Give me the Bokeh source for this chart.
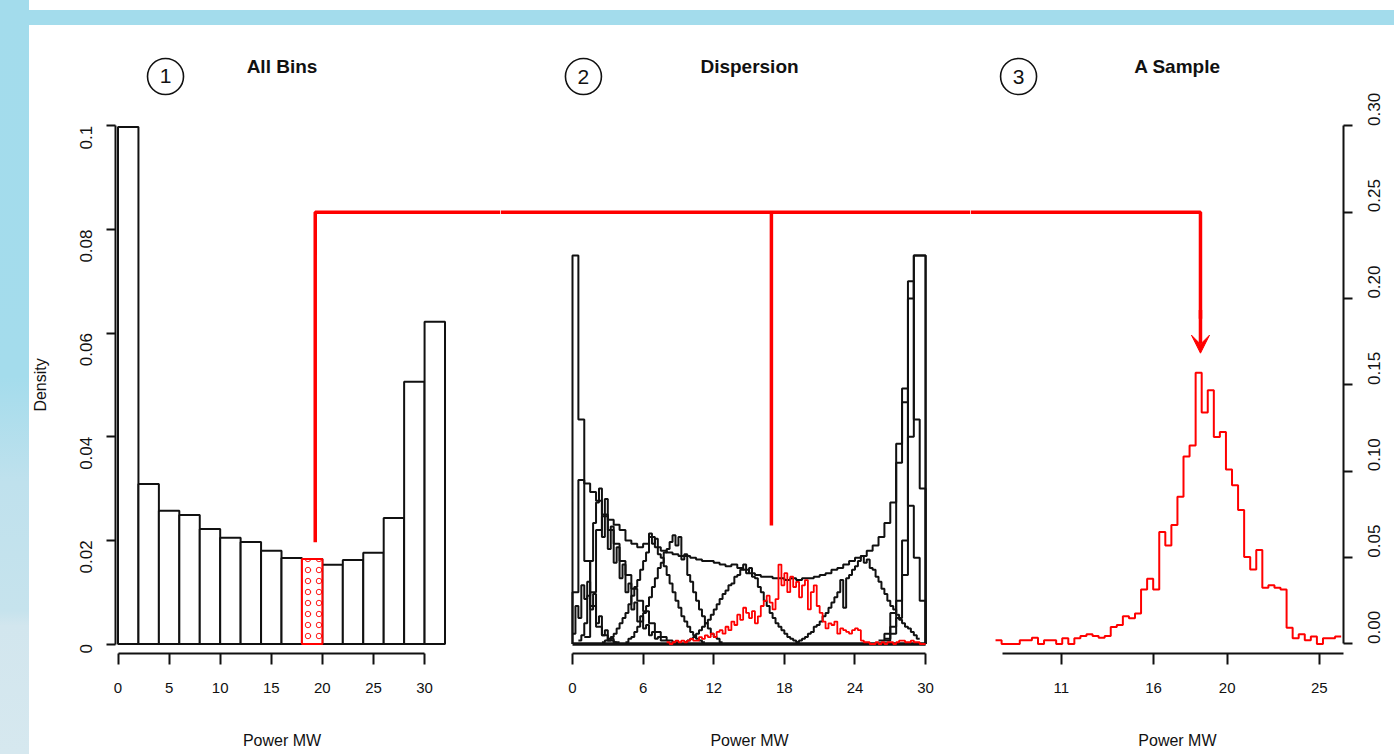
import math
from bokeh.plotting import figure
from bokeh.models import (Range1d, FixedTicker, NumeralTickFormatter, Span,
                          Arrow, VeeHead, Div, Spacer)
from bokeh.core.properties import value
from bokeh.layouts import row, column
from bokeh.embed import file_html
from bokeh.resources import INLINE

# ---------------- data ----------------
# Panel 1 : All Bins (histogram, 2 MW bins)
ALL_BIN_START = 0
ALL_BIN_WIDTH = 2
ALL_BIN_DENSITY = [0.0998, 0.0309, 0.0257, 0.0249, 0.0222, 0.0205, 0.0197, 0.0180,
                   0.0166, 0.0164, 0.0153, 0.0162, 0.0176, 0.0243, 0.0506, 0.0622]
HIGHLIGHT_BIN = 9
ALL_X_TICKS = [0, 5, 10, 15, 20, 25, 30]
ALL_Y_TICKS = [0, 0.02, 0.04, 0.06, 0.08, 0.1]

# Panel 2 : Dispersion (conditional densities)
DISP_X_TICKS = [0, 6, 12, 18, 24, 30]
COARSE_BIN = 0.5
FINE_BIN = 0.25
ENVELOPE_START = 0.0
ENVELOPE = [0.225, 0.130, 0.093, 0.088, 0.083, 0.075, 0.072, 0.069, 0.066, 0.060,
            0.058, 0.056, 0.058, 0.062, 0.056, 0.054, 0.053, 0.052, 0.051, 0.051,
            0.050, 0.049, 0.048, 0.048, 0.047, 0.046, 0.045, 0.046, 0.044, 0.043,
            0.041, 0.040, 0.039, 0.039, 0.038, 0.038, 0.037, 0.038, 0.037, 0.038,
            0.038, 0.039, 0.040, 0.041, 0.043, 0.044, 0.046, 0.048, 0.050, 0.051,
            0.054, 0.057, 0.062, 0.070, 0.082, 0.105, 0.140, 0.200, 0.225, 0.225]
COND0_START = 0.0
COND0 = [0.030, 0.095, 0.048, 0.022, 0.010, 0.005, 0.002, 0.001]
COND1B_START = 1.0
COND1B = [0.004, 0.030, 0.066, 0.074, 0.066, 0.058, 0.048, 0.040, 0.032, 0.025,
          0.019, 0.012, 0.007, 0.004, 0.002, 0.001]
RIGHT1_START = 26.5
RIGHT1 = [0.002, 0.006, 0.015, 0.040, 0.120, 0.225, 0.225]
RIGHT2_START = 26.5
RIGHT2 = [0.003, 0.010, 0.025, 0.060, 0.210, 0.130, 0.090]
RIGHT3_START = 26.0
RIGHT3 = [0.002, 0.006, 0.018, 0.116, 0.148, 0.080, 0.050, 0.025]
# finer (0.25 MW) conditional densities
COND0B_START = 0.0
COND0B = [0.006, 0.022, 0.015, 0.034, 0.026, 0.036, 0.020, 0.029, 0.012, 0.016,
          0.005, 0.008, 0.002, 0.003, 0.001]
COND1_START = 0.5
COND1 = [0.002, 0.005, 0.012, 0.028, 0.048, 0.070, 0.082, 0.090, 0.062, 0.084,
         0.055, 0.068, 0.047, 0.056, 0.038, 0.046, 0.030, 0.035, 0.020, 0.024,
         0.013, 0.016, 0.009, 0.011, 0.005, 0.007, 0.003, 0.004, 0.002, 0.002]
COND2_START = 2.5
COND2 = [0.001, 0.002, 0.003, 0.004, 0.006, 0.009, 0.012, 0.015, 0.018, 0.023,
         0.028, 0.033, 0.037, 0.043, 0.048, 0.053, 0.064, 0.058, 0.061, 0.052,
         0.050, 0.045, 0.040, 0.035, 0.030, 0.025, 0.021, 0.016, 0.013, 0.010,
         0.007, 0.005, 0.003, 0.002, 0.001]
COND3_START = 4.5
COND3 = [0.001, 0.003, 0.004, 0.007, 0.010, 0.013, 0.018, 0.022, 0.027, 0.033,
         0.038, 0.044, 0.047, 0.053, 0.055, 0.059, 0.063, 0.057, 0.062, 0.049,
         0.052, 0.040, 0.036, 0.030, 0.025, 0.020, 0.016, 0.012, 0.009, 0.006,
         0.004, 0.003, 0.001]
COND4_START = 9.5
COND4 = [0.001, 0.002, 0.003, 0.004, 0.006, 0.008, 0.010, 0.012, 0.014, 0.017,
         0.020, 0.023, 0.026, 0.029, 0.031, 0.034, 0.035, 0.039, 0.040, 0.043,
         0.046, 0.041, 0.044, 0.039, 0.038, 0.033, 0.030, 0.025, 0.022, 0.018,
         0.015, 0.012, 0.010, 0.008, 0.006, 0.004, 0.003, 0.002, 0.001]
COND6_START = 19.0
COND6 = [0.001, 0.002, 0.003, 0.004, 0.006, 0.007, 0.010, 0.011, 0.013, 0.016,
         0.018, 0.021, 0.024, 0.027, 0.030, 0.037, 0.021, 0.038, 0.040, 0.043,
         0.045, 0.048, 0.051, 0.047, 0.049, 0.044, 0.043, 0.039, 0.036, 0.032,
         0.029, 0.025, 0.022, 0.020, 0.017, 0.014, 0.012, 0.010, 0.009, 0.007,
         0.005, 0.003]
SAMPLE_COND_START = 8.0
SAMPLE_COND = [0.001, 0.000, 0.001, 0.002, 0.001, 0.002, 0.001, 0.002,
               0.003, 0.002, 0.002, 0.004, 0.003, 0.005, 0.004, 0.006,
               0.004, 0.007, 0.008, 0.006, 0.010, 0.008, 0.013, 0.011,
               0.017, 0.014, 0.021, 0.018, 0.015, 0.019, 0.012, 0.016,
               0.022, 0.025, 0.028, 0.024, 0.020, 0.026, 0.046, 0.034,
               0.041, 0.030, 0.039, 0.033, 0.036, 0.027, 0.034, 0.037,
               0.020, 0.030, 0.034, 0.022, 0.018, 0.013, 0.009, 0.012,
               0.011, 0.013, 0.006, 0.009, 0.008, 0.007, 0.006, 0.008,
               0.009, 0.008, 0.002, 0.001, 0.001, 0.000, 0.000, 0.001,
               0.000, 0.001, 0.000, 0.001, 0.001, 0.000, 0.001, 0.002,
               0.002, 0.001, 0.001, 0.002, 0.001, 0.001, 0.000, 0.000]

# Panel 3 : A Sample
SAMPLE_START = 7.43
SAMPLE_BIN_WIDTH = 0.329
SAMPLE_DENSITY = [0.0021, 0.0, 0.0, 0.0, 0.0021, 0.0021, 0.0036, 0.0, 0.0021, 0.0021,
                  0.0, 0.0033, 0.0, 0.0033, 0.0046, 0.0056, 0.0046, 0.0036, 0.0046, 0.0098,
                  0.0110, 0.0160, 0.0149, 0.0176, 0.0315, 0.0378, 0.0315, 0.0649, 0.0571, 0.0689,
                  0.0853, 0.1085, 0.1150, 0.1570, 0.1340, 0.1470, 0.1199, 0.1228, 0.1010, 0.0919,
                  0.0776, 0.0504, 0.0432, 0.0544, 0.0326, 0.0340, 0.0326, 0.0315, 0.0094, 0.0033,
                  0.0056, 0.0021, 0.0044, 0.0, 0.0033, 0.0033, 0.0044]
SAMPLE_X_TICKS = [11, 16, 20, 25]
SAMPLE_Y_TICKS = [0, 0.05, 0.10, 0.15, 0.20, 0.25, 0.30]

# connector (red path linking the three panels)
LINK_LEVEL = 0.25          # in panel-3 density units
LINK_X_ALL = 19.3
LINK_BOTTOM_ALL = 0.01965
LINK_X_DISP = 16.9
LINK_BOTTOM_DISP = 0.0686
LINK_X_SAMPLE = 18.55
LINK_TIP_SAMPLE = 0.1684

# ---------------- styling helpers ----------------
FONT = "Liberation Sans"
INK = "#111111"
RED = "#ff0000"
PANEL_H = 680        # figure height (frame top at page y=25, bottom at 653)
BOTTOM_B = 52
STRIP_H = 49


def step_xy(start, width, vals, close_left=False, close_right=False):
    xs = [start + i * width for i in range(len(vals) + 1)]
    ys = list(vals) + [vals[-1]]
    if close_left:
        xs = [xs[0]] + xs
        ys = [0] + ys
    if close_right:
        xs = xs + [xs[-1]]
        ys = ys + [0]
    return xs, ys


def style_axis(ax, label_size="15px", rotate=False):
    ax.axis_line_width = 2
    ax.axis_line_color = INK
    ax.major_tick_line_width = 2
    ax.major_tick_line_color = INK
    ax.major_tick_out = 11
    ax.major_tick_in = 0
    ax.minor_tick_line_color = None
    ax.major_label_text_font = FONT
    ax.major_label_text_font_size = label_size
    ax.major_label_text_color = INK
    if rotate:
        ax.major_tick_out = 9
        ax.major_label_orientation = math.pi / 2


def clean(p):
    p.outline_line_color = None
    p.grid.grid_line_color = None
    p.background_fill_color = "white"
    p.border_fill_color = "white"
    return p


def base_fig(width, xr, yr, **kw):
    p = figure(width=width, height=PANEL_H, x_range=xr, y_range=yr,
               output_backend="svg", toolbar_location=None,
               min_border_top=0, min_border_bottom=BOTTOM_B, **kw)
    return clean(p)


def put_text(p, x, y, text, size="16px", bold=False, angle=0.0):
    p.text(x=[x], y=[y], text=[text], angle=angle, text_align="center",
           text_baseline="middle", text_font=value(FONT), text_font_size=value(size),
           text_font_style="bold" if bold else "normal", text_color=INK)


def add_heading(p, cx, cy, num, tx, title, title_dy):
    p.scatter(x=[cx], y=[cy], marker="circle", size=36, fill_color=None,
              line_color=INK, line_width=1.6)
    put_text(p, cx, cy, num, size="21px")
    put_text(p, tx, cy + title_dy, title, size="19px", bold=True)


def strip(width, xr, **kw):
    s = figure(width=width, height=STRIP_H, x_range=xr, y_range=Range1d(0, STRIP_H),
               output_backend="svg", toolbar_location=None, x_axis_location=None,
               y_axis_location=None, min_border_top=0, min_border_bottom=0, **kw)
    return clean(s)


# ---------------- panel 1 ----------------
x1r = Range1d(-0.245, 37.43)
y1r = Range1d(-0.0018336, 0.119378)
p1 = base_fig(440, x1r, y1r, min_border_left=55, min_border_right=0)
lefts = [ALL_BIN_START + i * ALL_BIN_WIDTH for i in range(len(ALL_BIN_DENSITY))]
rights = [l + ALL_BIN_WIDTH for l in lefts]
p1.quad(left=lefts, right=rights, bottom=0, top=ALL_BIN_DENSITY,
        fill_color="white", line_color=INK, line_width=2)
p1.quad(left=[lefts[HIGHLIGHT_BIN]], right=[rights[HIGHLIGHT_BIN]], bottom=0,
        top=[ALL_BIN_DENSITY[HIGHLIGHT_BIN]], fill_color="white", line_color=RED,
        line_width=2, hatch_pattern="ring", hatch_color=RED, hatch_scale=11,
        hatch_weight=0.9)
p1.line(x=[LINK_X_ALL, LINK_X_ALL, x1r.end], y=[LINK_BOTTOM_ALL, LINK_LEVEL / 3, LINK_LEVEL / 3],
        line_color=RED, line_width=3.5)
p1.xaxis.ticker = FixedTicker(ticks=ALL_X_TICKS)
p1.xaxis.bounds = (ALL_X_TICKS[0], ALL_X_TICKS[-1])
p1.yaxis.ticker = FixedTicker(ticks=ALL_Y_TICKS)
p1.yaxis.bounds = (ALL_Y_TICKS[0], ALL_Y_TICKS[-1])
p1.yaxis.formatter = NumeralTickFormatter(format="0.[00]")
style_axis(p1.xaxis[0])
style_axis(p1.yaxis[0], "17px", rotate=True)
p1.xaxis.major_label_standoff = 18
p1.yaxis.major_label_standoff = 20
add_heading(p1, 4.65, 0.10954, "1", 16.05, "All Bins", 0.00193)

# "Density" column to the left of panel 1 (shares panel 1's y scale)
dens = figure(width=31, height=PANEL_H, x_range=Range1d(0, 31), y_range=y1r,
              output_backend="svg", toolbar_location=None, x_axis_location=None,
              y_axis_location=None, min_border_top=0, min_border_bottom=BOTTOM_B,
              min_border_left=0, min_border_right=0)
clean(dens)
put_text(dens, 11, (ALL_Y_TICKS[0] + ALL_Y_TICKS[-1]) / 2, "Density", angle=math.pi / 2)

# ---------------- panel 2 ----------------
x2r = Range1d(-6.117, 33.815)
y2r = Range1d(-0.0055009, 0.358135)
p2 = base_fig(470, x2r, y2r, min_border_left=0, min_border_right=0, y_axis_location=None)
p2.line(x=[DISP_X_TICKS[0], DISP_X_TICKS[-1]], y=[0, 0], line_color=INK, line_width=3.5)
black_curves = [
    (ENVELOPE_START, COARSE_BIN, ENVELOPE, True, True),
    (COND0_START, COARSE_BIN, COND0, True, False),
    (COND0B_START, FINE_BIN, COND0B, False, False),
    (COND1_START, FINE_BIN, COND1, False, False),
    (COND1B_START, COARSE_BIN, COND1B, False, False),
    (COND2_START, FINE_BIN, COND2, False, False),
    (COND3_START, FINE_BIN, COND3, False, False),
    (COND4_START, FINE_BIN, COND4, False, False),
    (COND6_START, FINE_BIN, COND6, False, False),
    (RIGHT1_START, COARSE_BIN, RIGHT1, False, True),
    (RIGHT2_START, COARSE_BIN, RIGHT2, False, True),
    (RIGHT3_START, COARSE_BIN, RIGHT3, False, True),
]
for start, width, vals, cl, cr in black_curves:
    xs, ys = step_xy(start, width, vals, cl, cr)
    p2.step(xs, ys, mode="after", line_color=INK, line_width=2)
xs, ys = step_xy(SAMPLE_COND_START, FINE_BIN, SAMPLE_COND)
p2.step(xs, ys, mode="after", line_color=RED, line_width=1.8)
p2.add_layout(Span(location=LINK_LEVEL, dimension="width", line_color=RED, line_width=3.5))
p2.line(x=[LINK_X_DISP, LINK_X_DISP], y=[LINK_LEVEL, LINK_BOTTOM_DISP], line_color=RED,
        line_width=3.5)
p2.xaxis.ticker = FixedTicker(ticks=DISP_X_TICKS)
p2.xaxis.bounds = (DISP_X_TICKS[0], DISP_X_TICKS[-1])
style_axis(p2.xaxis[0])
p2.xaxis.major_label_standoff = 18
add_heading(p2, 0.93, 0.32860, "2", 15.04, "Dispersion", 0.00579)

# ---------------- panel 3 ----------------
x3r = Range1d(6.072, 26.31)
y3r = Range1d(-0.0055009, 0.358135)
p3 = base_fig(424, x3r, y3r, min_border_left=0, min_border_right=51, y_axis_location="right")
xs, ys = step_xy(SAMPLE_START, SAMPLE_BIN_WIDTH, SAMPLE_DENSITY)
p3.step(xs, ys, mode="after", line_color=RED, line_width=2)
p3.line(x=[x3r.start, LINK_X_SAMPLE, LINK_X_SAMPLE], y=[LINK_LEVEL, LINK_LEVEL, LINK_TIP_SAMPLE + 0.02],
        line_color=RED, line_width=3.5)
p3.add_layout(Arrow(end=VeeHead(size=18, fill_color=RED, line_color=RED, line_width=1),
                    x_start=LINK_X_SAMPLE, y_start=LINK_TIP_SAMPLE + 0.025,
                    x_end=LINK_X_SAMPLE, y_end=LINK_TIP_SAMPLE,
                    line_color=RED, line_width=3.5))
p3.xaxis.ticker = FixedTicker(ticks=SAMPLE_X_TICKS)
p3.xaxis.bounds = (7.81, 26.96)
p3.yaxis.ticker = FixedTicker(ticks=SAMPLE_Y_TICKS)
p3.yaxis.bounds = (SAMPLE_Y_TICKS[0], SAMPLE_Y_TICKS[-1])
p3.yaxis.formatter = NumeralTickFormatter(format="0.00")
style_axis(p3.xaxis[0])
style_axis(p3.yaxis[0], "17px", rotate=True)
p3.xaxis.major_label_standoff = 18
p3.yaxis.major_label_standoff = 22
add_heading(p3, 8.68, 0.32860, "3", 17.30, "A Sample", 0.00579)

# ---------------- x-axis titles (strip under the panels, same x scales) ----------------
LABEL_Y = 14
s1 = strip(440, x1r, min_border_left=55, min_border_right=0)
put_text(s1, 16.05, LABEL_Y, "Power MW")
s2 = strip(470, x2r, min_border_left=0, min_border_right=0)
put_text(s2, 15.04, LABEL_Y, "Power MW")
s3 = strip(424, x3r, min_border_left=0, min_border_right=51)
put_text(s3, 17.30, LABEL_Y, "Power MW")

# ---------------- page frame ----------------
left_band = Div(text="", width=29, height=754, margin=0,
                styles={"background": "linear-gradient(to bottom, #a3dcec 0%, #a4dcec 50%, #bfe1ed 64%, #c6e3ed 81%, #d2e6ee 83%, #d6e8ef 100%)"})
top_gap = Div(text="", width=1365, height=10, margin=0, styles={"background": "white"})
top_band = Div(text="", width=1365, height=15, margin=0, styles={"background": "#a3dcec"})
plots = row(dens, p1, p2, p3, spacing=0)
labels = row(Spacer(width=31, height=STRIP_H, margin=0), s1, s2, s3, spacing=0)
layout = row(left_band, column(top_gap, top_band, plots, labels, spacing=0), spacing=0)

open("out.html", "w").write(file_html(layout, INLINE))
